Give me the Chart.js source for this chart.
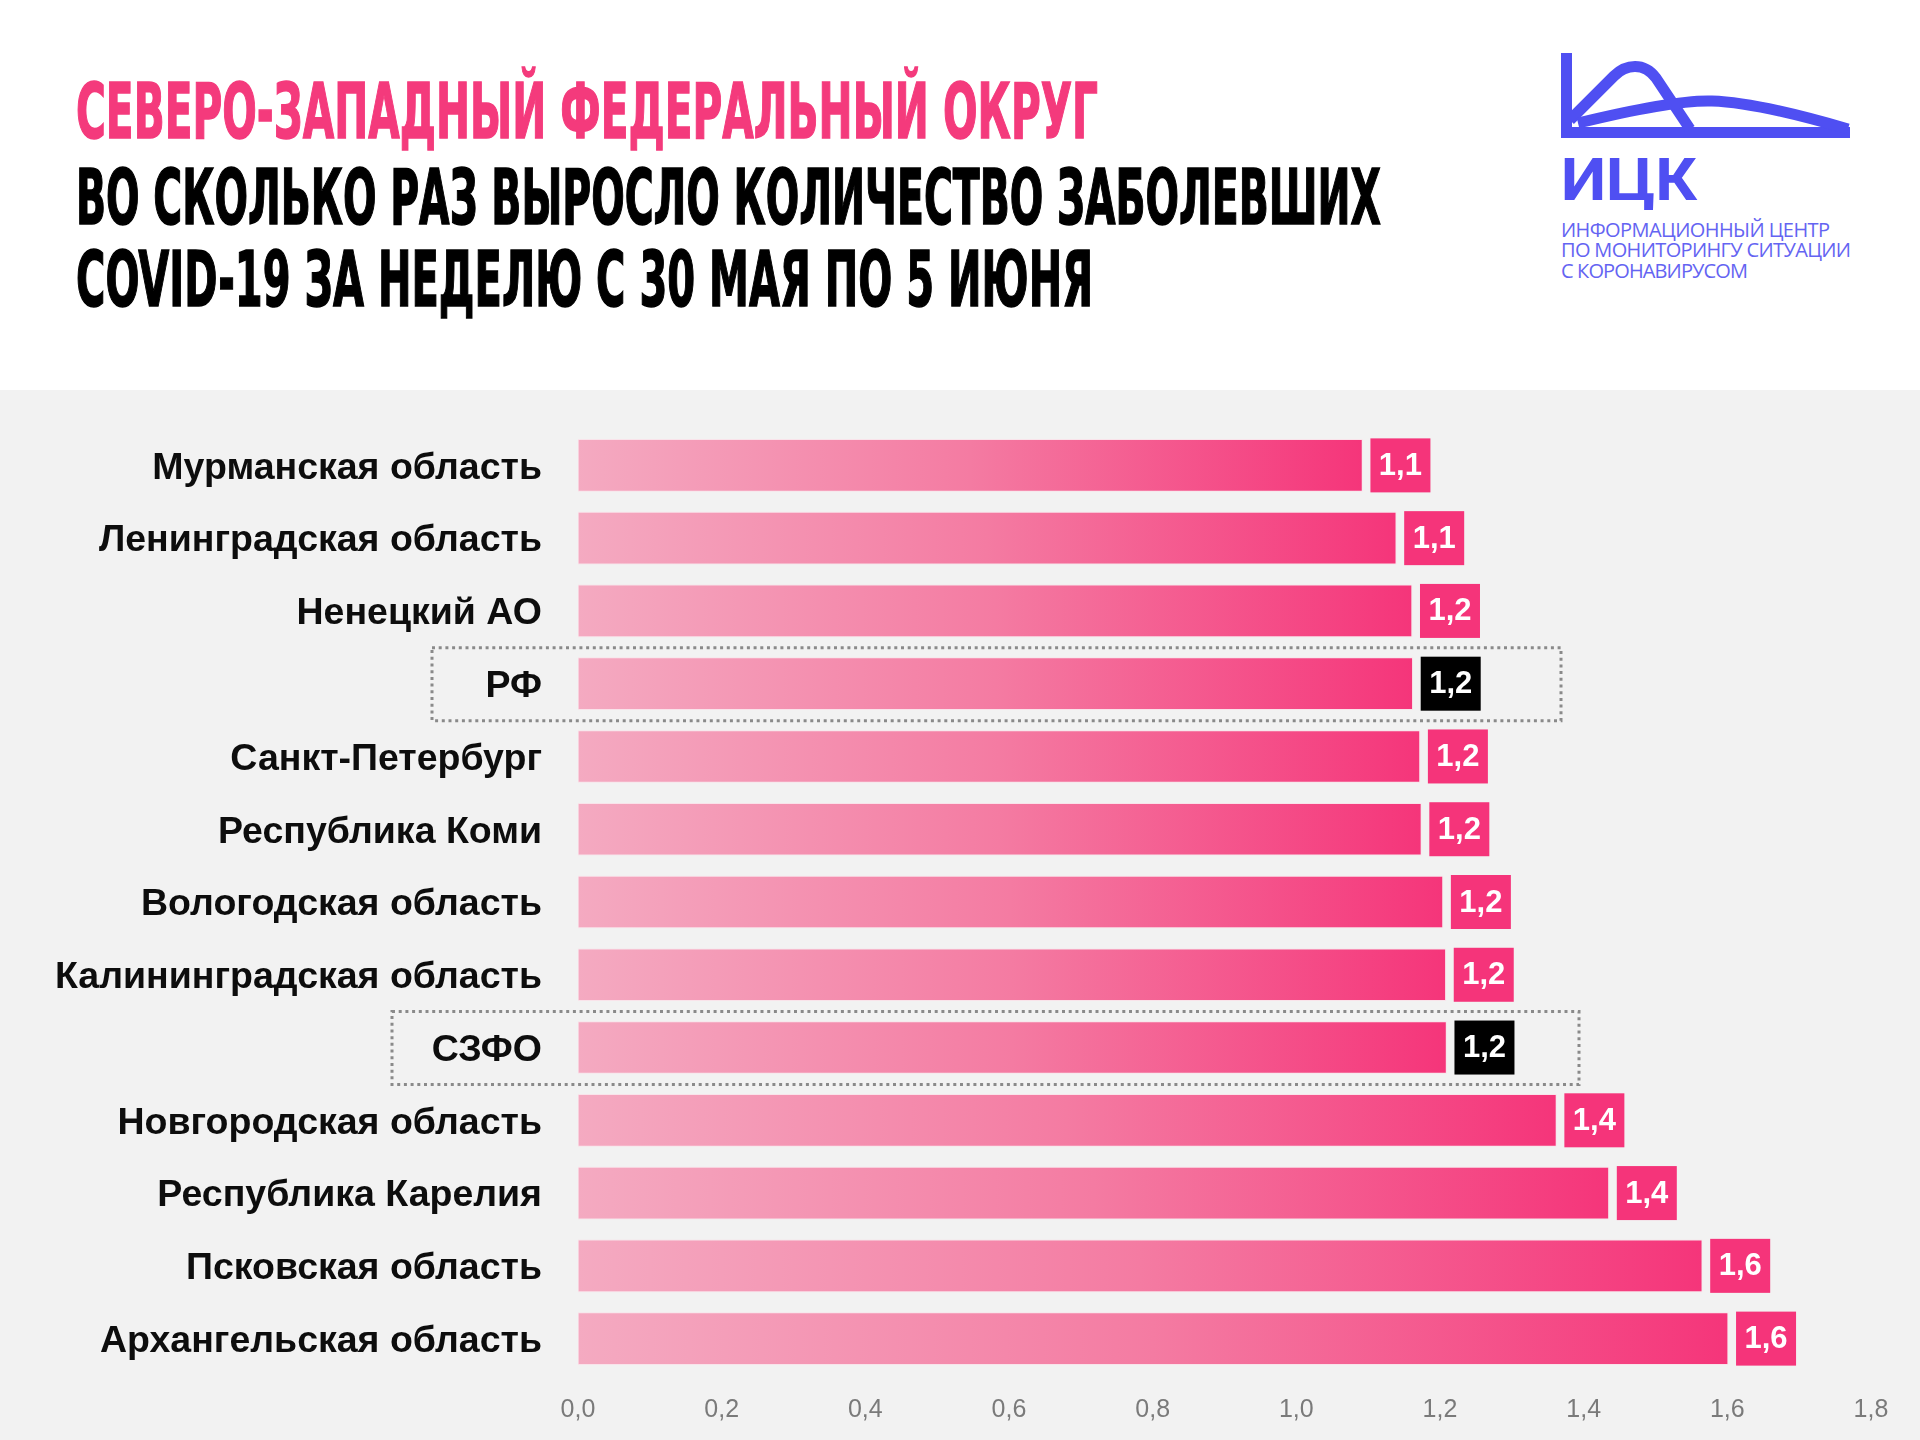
<!DOCTYPE html>
<html lang="ru">
<head>
<meta charset="utf-8">
<title>СЗФО — рост числа заболевших COVID-19</title>
<script src="https://cdn.jsdelivr.net/npm/chart.js@4.4.1/dist/chart.umd.min.js"></script>
<style>
  html, body { margin: 0; padding: 0; background: #fff; }
  #page { position: relative; width: 1920px; height: 1440px; overflow: hidden; background: #fff; }
  #header { position: absolute; left: 0; top: 0; }
  #plot { position: absolute; left: 0; top: 390px; width: 1920px; height: 1050px; background: #f2f2f2; }
  .ttl { font-family: "Liberation Sans Narrow", "DejaVu Sans Condensed", "Liberation Sans", sans-serif; font-weight: 700; font-size: 77px; }
  .logo-small { font-family: "Open Sans", Roboto, sans-serif; font-weight: 400; font-size: 20px; }
</style>
</head>
<body>
<div id="page">
  <svg id="header" width="1920" height="390" viewBox="0 0 1920 390" xmlns="http://www.w3.org/2000/svg">
    <rect x="0" y="0" width="1920" height="390" fill="#fff"/>
    <text class="ttl" x="76" y="138" textLength="1022" lengthAdjust="spacingAndGlyphs" fill="#f43a7c" stroke="#f43a7c" stroke-width="1.5">СЕВЕРО-ЗАПАДНЫЙ ФЕДЕРАЛЬНЫЙ ОКРУГ</text>
    <text class="ttl" x="76" y="224" textLength="1305" lengthAdjust="spacingAndGlyphs" fill="#000" stroke="#000" stroke-width="1.5">ВО СКОЛЬКО РАЗ ВЫРОСЛО КОЛИЧЕСТВО ЗАБОЛЕВШИХ</text>
    <text class="ttl" x="76" y="306" textLength="1017" lengthAdjust="spacingAndGlyphs" fill="#000" stroke="#000" stroke-width="1.5">COVID-19 ЗА НЕДЕЛЮ С 30 МАЯ ПО 5 ИЮНЯ</text>

    <!-- logo -->
    <g fill="#4f4ff2">
      <rect x="1561" y="53" width="11" height="85"/>
      <rect x="1561" y="127" width="289" height="11"/>
    </g>
    <g fill="none" stroke="#4f4ff2" stroke-width="11" stroke-linejoin="round">
      <path d="M1570,120 L1614,76 C1626,64 1644,62 1656,78 L1690,129"/>
      <path d="M1578,123 C1640,108 1685,100 1712,101 C1745,102 1790,112 1848,129"/>
    </g>
    <text x="1561" y="200" textLength="136" lengthAdjust="spacingAndGlyphs" font-family="Roboto, sans-serif" font-weight="700" font-size="60" fill="#4f4ff2">ИЦК</text>
    <text class="logo-small" x="1561" y="237" textLength="269" lengthAdjust="spacing" fill="#6464f2">ИНФОРМАЦИОННЫЙ ЦЕНТР</text>
    <text class="logo-small" x="1561" y="257" textLength="290" lengthAdjust="spacing" fill="#6464f2">ПО МОНИТОРИНГУ СИТУАЦИИ</text>
    <text class="logo-small" x="1561" y="278" textLength="187" lengthAdjust="spacing" fill="#6464f2">С КОРОНАВИРУСОМ</text>
  </svg>

  <div id="plot"><canvas id="barChart" width="1920" height="1050"></canvas></div>
</div>

<script>
var regions = [
  "Мурманская область",
  "Ленинградская область",
  "Ненецкий АО",
  "РФ",
  "Санкт-Петербург",
  "Республика Коми",
  "Вологодская область",
  "Калининградская область",
  "СЗФО",
  "Новгородская область",
  "Республика Карелия",
  "Псковская область",
  "Архангельская область"
];
var growth = [1.092, 1.139, 1.161, 1.162, 1.172, 1.174, 1.204, 1.208, 1.209, 1.362, 1.435, 1.565, 1.601];
var highlighted = ["РФ", "СЗФО"];
var xTicks = [0, 0.2, 0.4, 0.6, 0.8, 1.0, 1.2, 1.4, 1.6, 1.8];

var PINK = "#f5347a";

function fmt(v) {
  return v.toFixed(1).replace(".", ",");
}

var valueBoxes = {
  id: "valueBoxes",
  afterDatasetsDraw: function(chart) {
    var ctx = chart.ctx;
    var meta = chart.getDatasetMeta(0);
    ctx.save();
    meta.data.forEach(function(bar, i) {
      var w = 60, h = 54, left = bar.x + 8;
      ctx.fillStyle = highlighted.indexOf(regions[i]) >= 0 ? "#000" : PINK;
      ctx.fillRect(left, bar.y - h / 2, w, h);
      ctx.fillStyle = "#fff";
      ctx.font = 'bold 31px "Liberation Sans", Arial, sans-serif';
      ctx.textAlign = "center";
      ctx.textBaseline = "middle";
      ctx.fillText(fmt(growth[i]), left + w / 2, bar.y + 1);
    });
    ctx.restore();
  }
};

var dottedFrames = {
  id: "dottedFrames",
  afterDraw: function(chart, args, opts) {
    var ctx = chart.ctx;
    var y = chart.scales.y;
    ctx.save();
    ctx.strokeStyle = "#8a8a8a";
    ctx.lineWidth = 3;
    ctx.setLineDash([3, 3.7]);
    opts.frames.forEach(function(f) {
      var cy = y.getPixelForValue(regions.indexOf(f.label));
      ctx.strokeRect(f.left, cy - 36, f.right - f.left, 73);
    });
    ctx.restore();
  }
};

new Chart(document.getElementById("barChart"), {
  type: "bar",
  data: {
    labels: regions,
    datasets: [{
      data: growth,
      barThickness: 52,
      borderWidth: 1,
      borderSkipped: false,
      borderColor: "rgba(255,215,228,0.55)",
      backgroundColor: function(c) {
        var chart = c.chart;
        if (!chart.chartArea || c.raw === undefined) return PINK;
        var x = chart.scales.x;
        var g = chart.ctx.createLinearGradient(x.getPixelForValue(0), 0, x.getPixelForValue(c.raw), 0);
        g.addColorStop(0, "#f4aac1");
        g.addColorStop(0.5, "#f47ba2");
        g.addColorStop(1, "#f5357a");
        return g;
      }
    }]
  },
  options: {
    indexAxis: "y",
    responsive: false,
    animation: false,
    devicePixelRatio: 1,
    layout: { padding: { top: 39, right: 49, left: 0, bottom: 0 } },
    plugins: {
      legend: { display: false },
      tooltip: { enabled: false },
      dottedFrames: {
        frames: [
          { label: "РФ", left: 432, right: 1561 },
          { label: "СЗФО", left: 392, right: 1579 }
        ]
      }
    },
    scales: {
      x: {
        min: 0,
        max: 1.8,
        afterBuildTicks: function(scale) {
          scale.ticks = xTicks.map(function(v) { return { value: v }; });
        },
        afterFit: function(scale) { scale.height = 65; },
        grid: { display: false, drawTicks: false },
        border: { display: false },
        ticks: {
          padding: 20,
          color: "#7a7a7a",
          font: { family: '"Liberation Sans", Arial, sans-serif', size: 25 },
          callback: function(v) { return fmt(v); }
        }
      },
      y: {
        afterFit: function(scale) {
          scale.width = 578;
          scale.paddingTop = 0;
          scale.paddingBottom = 0;
        },
        grid: { display: false, drawTicks: false },
        border: { display: false },
        ticks: {
          padding: 36,
          labelOffset: 3,
          color: "#0d0d0d",
          font: { family: '"Liberation Sans", Arial, sans-serif', size: 37.5, weight: "bold" }
        }
      }
    }
  },
  plugins: [valueBoxes, dottedFrames]
});
</script>
</body>
</html>
